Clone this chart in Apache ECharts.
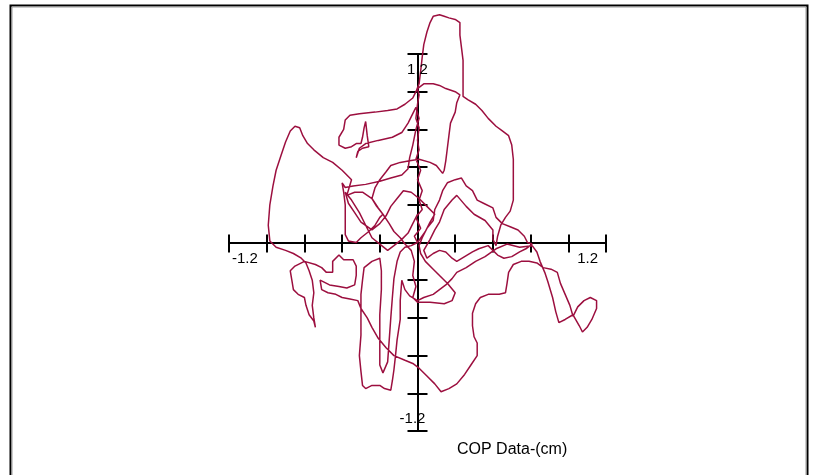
<!DOCTYPE html>
<html><head><meta charset="utf-8">
<script src="https://cdn.jsdelivr.net/npm/echarts@6/dist/echarts.min.js"></script>
<style>html,body{margin:0;padding:0;background:#fff}#c{width:813px;height:475px}</style>
</head><body><div id="c"></div>
<script>
const axisMin = -1.2, axisMax = 1.2, tickStep = 0.24;
const xEdgeLabels = ['-1.2', '1.2'];
const yEdgeLabels = ['-1.2', '1.2'];
const axisTitle = 'COP Data-(cm)';
// COP trace, [x cm, y cm], in recorded order
const copTrace = [
[0,0],[-0.02,0.04],[0.02,0.09],[-0.01,0.16],[0.03,0.21],[0.01,0.27],[0.03,0.33],[0,0.40],[0.02,0.46],[-0.01,0.53],
[0.01,0.59],[0,0.65],[0.01,0.73],[-0.01,0.79],[0,0.88],[0.01,0.94],[0,0.98],[0.04,1.01],[0.10,1.01],[0.14,1.00],
[0.18,0.98],[0.24,0.96],[0.27,0.94],[0.25,0.89],[0.24,0.83],[0.21,0.76],[0.20,0.68],[0.19,0.60],[0.18,0.52],[0.17,0.46],
[0.16,0.44],[0.12,0.49],[0.08,0.51],[0.01,0.53],[-0.05,0.52],[-0.11,0.51],[-0.17,0.49],[-0.20,0.45],[-0.24,0.40],[-0.27,0.35],
[-0.29,0.28],[-0.26,0.23],[-0.22,0.18],[-0.18,0.12],[-0.15,0.07],[-0.11,0.03],[-0.08,-0.01],[-0.04,-0.05],[-0.02,-0.12],[-0.03,-0.21],
[-0.01,-0.28],[-0.03,-0.35],[0,-0.38],[0.08,-0.38],[0.17,-0.39],[0.22,-0.37],[0.24,-0.32],[0.19,-0.26],[0.14,-0.21],[0.10,-0.17],
[0.05,-0.12],[0.02,-0.07],[0.01,-0.02],[0.03,0.03],[0.06,0.09],[0.10,0.14],[0.11,0.21],[0.14,0.27],[0.16,0.33],[0.19,0.38],
[0.24,0.40],[0.28,0.41],[0.31,0.36],[0.35,0.33],[0.38,0.27],[0.42,0.25],[0.48,0.22],[0.50,0.16],[0.54,0.12],[0.59,0.10],
[0.64,0.08],[0.68,0.04],[0.70,0.00],[0.73,-0.01],[0.69,-0.04],[0.65,-0.06],[0.60,-0.09],[0.55,-0.10],[0.51,-0.08],[0.48,-0.05],
[0.45,-0.02],[0.39,-0.04],[0.35,-0.06],[0.30,-0.09],[0.25,-0.12],[0.22,-0.10],[0.18,-0.06],[0.14,-0.05],[0.10,-0.07],[0.06,-0.10],
[0.04,-0.05],[0.08,0.02],[0.11,0.08],[0.14,0.13],[0.17,0.21],[0.22,0.27],[0.25,0.30],[0.31,0.23],[0.36,0.18],[0.43,0.14],
[0.48,0.08],[0.48,0.02],[0.50,-0.02],[0.51,0.04],[0.53,0.11],[0.56,0.16],[0.59,0.20],[0.61,0.27],[0.61,0.40],[0.61,0.53],
[0.60,0.62],[0.58,0.68],[0.54,0.71],[0.50,0.74],[0.45,0.79],[0.41,0.84],[0.37,0.88],[0.32,0.91],[0.29,0.93],[0.29,0.98],
[0.29,1.07],[0.29,1.16],[0.28,1.24],[0.27,1.32],[0.27,1.40],[0.24,1.42],[0.20,1.43],[0.17,1.44],[0.14,1.45],[0.10,1.44],
[0.08,1.40],[0.06,1.34],[0.04,1.26],[0.03,1.18],[0.02,1.09],[0.01,1.01],[-0.01,0.96],[-0.03,0.92],[-0.08,0.88],[-0.13,0.85],
[-0.19,0.84],[-0.27,0.83],[-0.37,0.82],[-0.43,0.81],[-0.46,0.78],[-0.47,0.72],[-0.50,0.67],[-0.50,0.62],[-0.46,0.60],[-0.42,0.61],
[-0.39,0.63],[-0.36,0.63],[-0.35,0.67],[-0.34,0.73],[-0.33,0.77],[-0.32,0.68],[-0.31,0.61],[-0.35,0.60],[-0.38,0.58],[-0.39,0.54],
[-0.37,0.60],[-0.33,0.63],[-0.25,0.65],[-0.16,0.67],[-0.10,0.70],[-0.06,0.76],[-0.03,0.82],[-0.01,0.86],[0.01,0.79],[-0.01,0.72],
[-0.03,0.62],[-0.05,0.54],[-0.06,0.47],[-0.10,0.43],[-0.17,0.41],[-0.24,0.39],[-0.33,0.37],[-0.41,0.36],[-0.46,0.35],[-0.48,0.38],
[-0.47,0.32],[-0.46,0.24],[-0.46,0.14],[-0.46,0.05],[-0.44,0.01],[-0.39,0.00],[-0.36,0.03],[-0.31,0.07],[-0.27,0.11],[-0.24,0.16],
[-0.22,0.18],[-0.25,0.22],[-0.29,0.28],[-0.35,0.32],[-0.40,0.32],[-0.45,0.30],[-0.42,0.40],[-0.48,0.46],[-0.54,0.51],[-0.60,0.54],
[-0.66,0.59],[-0.70,0.63],[-0.73,0.68],[-0.75,0.73],[-0.78,0.74],[-0.81,0.71],[-0.84,0.64],[-0.87,0.55],[-0.90,0.46],[-0.92,0.36],
[-0.94,0.24],[-0.95,0.11],[-0.94,0.01],[-0.90,-0.03],[-0.84,-0.05],[-0.79,-0.07],[-0.74,-0.10],[-0.71,-0.13],[-0.69,-0.18],[-0.67,-0.24],
[-0.66,-0.32],[-0.67,-0.40],[-0.66,-0.48],[-0.65,-0.54],[-0.66,-0.50],[-0.69,-0.46],[-0.71,-0.40],[-0.72,-0.35],[-0.76,-0.33],[-0.79,-0.30],
[-0.80,-0.24],[-0.81,-0.18],[-0.78,-0.15],[-0.72,-0.12],[-0.65,-0.14],[-0.61,-0.16],[-0.58,-0.19],[-0.54,-0.19],[-0.54,-0.12],[-0.50,-0.08],
[-0.47,-0.11],[-0.41,-0.11],[-0.39,-0.15],[-0.39,-0.21],[-0.40,-0.27],[-0.45,-0.29],[-0.50,-0.28],[-0.56,-0.27],[-0.62,-0.24],[-0.61,-0.30],
[-0.57,-0.32],[-0.52,-0.33],[-0.48,-0.35],[-0.43,-0.36],[-0.38,-0.37],[-0.36,-0.42],[-0.32,-0.48],[-0.29,-0.54],[-0.25,-0.61],[-0.20,-0.67],
[-0.15,-0.72],[-0.08,-0.75],[-0.03,-0.77],[0.01,-0.80],[0.06,-0.85],[0.11,-0.90],[0.15,-0.95],[0.20,-0.93],[0.25,-0.90],[0.30,-0.84],
[0.34,-0.78],[0.38,-0.72],[0.38,-0.64],[0.36,-0.60],[0.35,-0.53],[0.35,-0.45],[0.37,-0.39],[0.40,-0.35],[0.45,-0.33],[0.52,-0.33],
[0.56,-0.32],[0.57,-0.26],[0.58,-0.19],[0.61,-0.14],[0.66,-0.12],[0.71,-0.12],[0.76,-0.13],[0.80,-0.16],[0.85,-0.17],[0.89,-0.19],
[0.91,-0.26],[0.94,-0.33],[0.97,-0.40],[0.99,-0.47],[1.02,-0.41],[1.06,-0.37],[1.10,-0.35],[1.14,-0.37],[1.14,-0.42],[1.11,-0.49],
[1.08,-0.54],[1.05,-0.57],[1.03,-0.53],[0.99,-0.46],[0.94,-0.49],[0.90,-0.51],[0.88,-0.44],[0.86,-0.35],[0.83,-0.25],[0.81,-0.19],
[0.78,-0.12],[0.76,-0.06],[0.73,-0.02],[0.65,-0.03],[0.57,-0.01],[0.50,-0.04],[0.43,-0.09],[0.37,-0.12],[0.31,-0.16],[0.25,-0.19],
[0.22,-0.23],[0.18,-0.27],[0.14,-0.30],[0.10,-0.33],[0.04,-0.35],[0,-0.37],[-0.05,-0.34],[-0.08,-0.30],[-0.10,-0.24],[-0.11,-0.37],
[-0.11,-0.49],[-0.13,-0.62],[-0.14,-0.72],[-0.15,-0.81],[-0.16,-0.88],[-0.17,-0.94],[-0.21,-0.93],[-0.24,-0.91],[-0.29,-0.91],[-0.33,-0.93],
[-0.35,-0.91],[-0.36,-0.82],[-0.37,-0.72],[-0.36,-0.59],[-0.36,-0.46],[-0.36,-0.33],[-0.35,-0.24],[-0.34,-0.16],[-0.29,-0.12],[-0.24,-0.10],
[-0.23,-0.18],[-0.23,-0.30],[-0.24,-0.46],[-0.24,-0.62],[-0.24,-0.78],[-0.22,-0.83],[-0.19,-0.76],[-0.18,-0.62],[-0.17,-0.48],[-0.16,-0.35],
[-0.15,-0.23],[-0.13,-0.12],[-0.11,-0.06],[-0.08,-0.03],[-0.04,-0.02],[0,0],
[0.05,0.07],[0.08,0.13],[0.11,0.18],[0.06,0.23],[0.01,0.28],[-0.04,0.32],[-0.09,0.33],[-0.13,0.28],[-0.17,0.23],[-0.20,0.17],
[-0.24,0.12],[-0.29,0.08],[-0.36,0.13],[-0.40,0.19],[-0.44,0.25],[-0.46,0.32],[-0.42,0.27],[-0.37,0.19],[-0.33,0.11],[-0.29,0.03],
[-0.24,-0.01],[-0.19,-0.05],[-0.15,-0.02],[-0.10,0.02],[-0.06,0.06],[-0.03,0.12],[0,0.18]
];

const FONT = '"Liberation Sans", Arial, sans-serif';
const chart = echarts.init(document.getElementById('c'), null, {renderer: 'canvas'});
const lineStyleAxis = {color: '#000', width: 2};
function axisBase(extra) {
  return Object.assign({
    type: 'value', min: axisMin, max: axisMax, interval: tickStep,
    splitLine: {show: false},
    axisLabel: {show: false},
    axisLine: {show: true, onZero: true, onZeroAxisIndex: 0, lineStyle: lineStyleAxis}
  }, extra);
}

chart.setOption({
  animation: false,
  backgroundColor: '#fff',
  grid: {left: 229, right: 207, top: 54, bottom: 44, containLabel: false},
  title: {
    text: axisTitle, left: 452, top: 437,
    textStyle: {fontSize: 16, fontWeight: 'normal', fontFamily: FONT, color: '#000'}
  },
  xAxis: [
    axisBase({position: 'bottom', axisTick: {show: true, length: 10, lineStyle: lineStyleAxis}}),
    axisBase({position: 'top', axisTick: {show: true, length: 8, lineStyle: lineStyleAxis}})
  ],
  yAxis: [
    axisBase({position: 'left', axisTick: {show: true, length: 10, lineStyle: lineStyleAxis}}),
    axisBase({position: 'right', axisTick: {show: true, length: 10, lineStyle: lineStyleAxis}})
  ],
  series: [{
    type: 'line',
    xAxisIndex: 0, yAxisIndex: 0,
    data: copTrace,
    showSymbol: false,
    clip: false,
    smooth: false,
    z: 1,
    lineStyle: {color: '#9c0f3f', width: 1.5}
  }]
});

// tick labels at the ends of the crossed axes, placed from the axis scales
const finder = {xAxisIndex: 0, yAxisIndex: 0};
const pxL = chart.convertToPixel(finder, [axisMin, 0]);
const pxR = chart.convertToPixel(finder, [axisMax, 0]);
const pyT = chart.convertToPixel(finder, [0, axisMax]);
const pyB = chart.convertToPixel(finder, [0, axisMin]);
function label(text, x, y, align) {
  return {type: 'text', z: 5, silent: true, x: x, y: y,
    style: {text: text, fontSize: 15, fontFamily: FONT, fill: '#000',
      align: align, verticalAlign: 'middle', textAlign: align, textVerticalAlign: 'middle'}};
}
chart.setOption({
  graphic: [
    {type: 'rect', z: -10, silent: true, shape: {x: 10.5, y: 5.5, width: 797, height: 500},
     style: {fill: 'none', stroke: '#000', lineWidth: 2}},
    {type: 'rect', z: -10, silent: true, shape: {x: 12, y: 7, width: 794, height: 500},
     style: {fill: 'none', stroke: '#9a9a9a', lineWidth: 1}},
    label(xEdgeLabels[0], pxL[0] + 3, pxL[1] + 16, 'left'),
    label(xEdgeLabels[1], pxR[0] - 8, pxR[1] + 16, 'right'),
    label(yEdgeLabels[1], pyT[0], pyT[1] + 15.5, 'center'),
    label(yEdgeLabels[0], pyB[0] - 5, pyB[1] - 12.5, 'center')
  ]
});
</script></body></html>
